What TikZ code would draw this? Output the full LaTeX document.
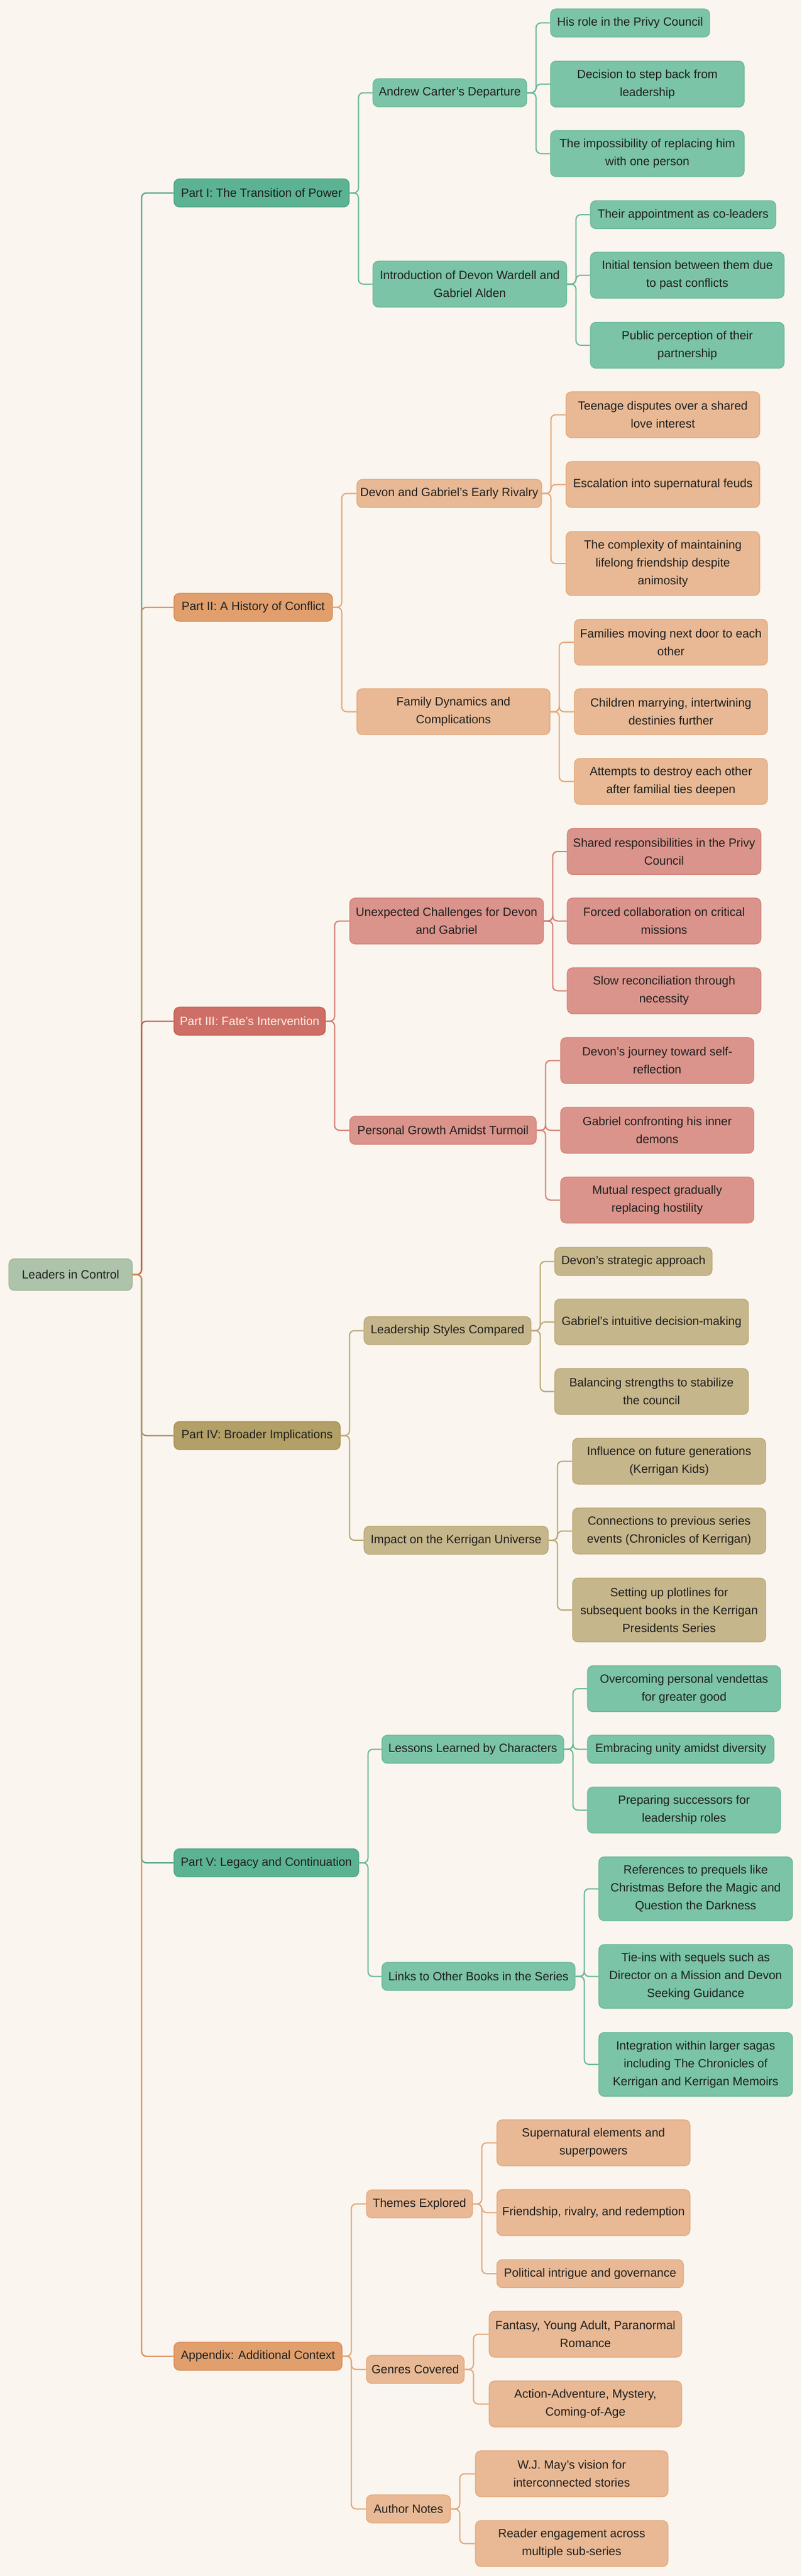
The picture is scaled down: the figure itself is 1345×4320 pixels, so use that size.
\documentclass[tikz,border=0pt]{standalone}
\usepackage{fontspec}
\setmainfont{Liberation Sans}
\usepackage{xcolor}

\definecolor{bgpaper}{HTML}{FAF5EE}
\definecolor{inktext}{HTML}{1F1F1F}
\definecolor{rootfill}{HTML}{ADC3AA}
\definecolor{rootline}{HTML}{9CB598}
\definecolor{grnA}{HTML}{5BB393}
\definecolor{grnAline}{HTML}{4FA283}
\definecolor{grnB}{HTML}{7BC4A7}
\definecolor{grnBline}{HTML}{68B796}
\definecolor{orgA}{HTML}{E09F6D}
\definecolor{orgAline}{HTML}{D98650}
\definecolor{orgB}{HTML}{E8B994}
\definecolor{orgBline}{HTML}{E2A677}
\definecolor{redA}{HTML}{CD6F66}
\definecolor{redAline}{HTML}{C4574D}
\definecolor{redB}{HTML}{DA948B}
\definecolor{redBline}{HTML}{D27E74}
\definecolor{olvA}{HTML}{B3A066}
\definecolor{olvAline}{HTML}{A38F55}
\definecolor{olvB}{HTML}{C6B68B}
\definecolor{olvBline}{HTML}{B9A672}
\definecolor{paletext}{HTML}{FCEEE8}

\begin{document}
\begin{tikzpicture}[x=1pt,y=-1pt]
\tikzset{
  box/.style={rectangle, rounded corners=9pt, line width=1.2pt, inner sep=0pt,
    align=center, font=\fontsize{20}{30}\selectfont, text=inktext},
  rootbox/.style={box, fill=rootfill, draw=rootline},
  grnhead/.style={box, fill=grnA, draw=grnAline},
  grnleaf/.style={box, fill=grnB, draw=grnBline},
  orghead/.style={box, fill=orgA, draw=orgAline},
  orgleaf/.style={box, fill=orgB, draw=orgBline},
  redhead/.style={box, fill=redA, draw=redAline, text=paletext},
  redleaf/.style={box, fill=redB, draw=redBline},
  olvhead/.style={box, fill=olvA, draw=olvAline},
  olvleaf/.style={box, fill=olvB, draw=olvBline},
  wire/.style={line width=2pt, rounded corners=8pt}
}
\fill [bgpaper] (0,0) rectangle (1345,4320);

% root and parts
\node [rootbox, minimum width=207pt, minimum height=53pt] (root) at (118.5,2137.5) {Leaders in Control};
\node [grnhead, minimum width=294pt, minimum height=47pt] (p1) at (439,323.5) {Part I: The Transition of Power};
\node [orghead, minimum width=266pt, minimum height=47pt] (p2) at (425,1018.5) {Part II: A History of Conflict};
\node [redhead, minimum width=254pt, minimum height=47pt] (p3) at (419,1712.5) {Part III: Fate's Intervention};
\node [olvhead, minimum width=279pt, minimum height=47pt] (p4) at (431.5,2407.5) {Part IV: Broader Implications};
\node [grnhead, minimum width=310pt, minimum height=47pt] (p5) at (447,3124) {Part V: Legacy and Continuation};
\node [orghead, minimum width=282pt, minimum height=47pt] (pa) at (433,3951.5) {Appendix: Additional Context};

% part I
\node [grnleaf, minimum width=258pt, minimum height=47pt] (a1) at (755,155.5) {Andrew Carter's Departure};
\node [grnleaf, minimum width=325pt, minimum height=77pt] (a2) at (788.5,476.5) {Introduction of Devon Wardell and\\Gabriel Alden};
\node [grnleaf, minimum width=267pt, minimum height=47pt] (a1a) at (1057.5,38.5) {His role in the Privy Council};
\node [grnleaf, minimum width=325pt, minimum height=77pt] (a1b) at (1086.5,141) {Decision to step back from\\leadership};
\node [grnleaf, minimum width=325pt, minimum height=77pt] (a1c) at (1086.5,257.5) {The impossibility of replacing him\\with one person};
\node [grnleaf, minimum width=311pt, minimum height=47pt] (a2a) at (1146.5,360) {Their appointment as co-leaders};
\node [grnleaf, minimum width=325pt, minimum height=77pt] (a2b) at (1153.5,461.5) {Initial tension between them due\\to past conflicts};
\node [grnleaf, minimum width=325pt, minimum height=77pt] (a2c) at (1153.5,579) {Public perception of their\\partnership};

% part II
\node [orgleaf, minimum width=310pt, minimum height=47pt] (b1) at (754,827.5) {Devon and Gabriel's Early Rivalry};
\node [orgleaf, minimum width=324pt, minimum height=77pt] (b2) at (761,1193.5) {Family Dynamics and\\Complications};
\node [orgleaf, minimum width=325pt, minimum height=77pt] (b1a) at (1112.5,695.5) {Teenage disputes over a shared\\love interest};
\node [orgleaf, minimum width=325pt, minimum height=77pt] (b1b) at (1112.5,812.5) {Escalation into supernatural feuds};
\node [orgleaf, minimum width=325pt, minimum height=107pt] (b1c) at (1112.5,945) {The complexity of maintaining\\lifelong friendship despite\\animosity};
\node [orgleaf, minimum width=324pt, minimum height=77pt] (b2a) at (1126,1077) {Families moving next door to each\\other};
\node [orgleaf, minimum width=324pt, minimum height=77pt] (b2b) at (1126,1193.5) {Children marrying, intertwining\\destinies further};
\node [orgleaf, minimum width=324pt, minimum height=77pt] (b2c) at (1126,1310.5) {Attempts to destroy each other\\after familial ties deepen};

% part III
\node [redleaf, minimum width=325pt, minimum height=77pt] (c1) at (749.5,1544.5) {Unexpected Challenges for Devon\\and Gabriel};
\node [redleaf, minimum width=313pt, minimum height=47pt] (c2) at (743.5,1895.5) {Personal Growth Amidst Turmoil};
\node [redleaf, minimum width=325pt, minimum height=77pt] (c1a) at (1114.5,1428) {Shared responsibilities in the Privy\\Council};
\node [redleaf, minimum width=325pt, minimum height=77pt] (c1b) at (1114.5,1544.5) {Forced collaboration on critical\\missions};
\node [redleaf, minimum width=325pt, minimum height=77pt] (c1c) at (1114.5,1661.5) {Slow reconciliation through\\necessity};
\node [redleaf, minimum width=324pt, minimum height=77pt] (c2a) at (1103,1778.5) {Devon's journey toward self-\\reflection};
\node [redleaf, minimum width=324pt, minimum height=77pt] (c2b) at (1103,1895.5) {Gabriel confronting his inner\\demons};
\node [redleaf, minimum width=324pt, minimum height=77pt] (c2c) at (1103,2012.5) {Mutual respect gradually\\replacing hostility};

% part IV
\node [olvleaf, minimum width=280pt, minimum height=47pt] (d1) at (751,2231.5) {Leadership Styles Compared};
\node [olvleaf, minimum width=309pt, minimum height=47pt] (d2) at (765.5,2583) {Impact on the Kerrigan Universe};
\node [olvleaf, minimum width=264pt, minimum height=47pt] (d1a) at (1063,2115.5) {Devon's strategic approach};
\node [olvleaf, minimum width=325pt, minimum height=77pt] (d1b) at (1093.5,2217) {Gabriel's intuitive decision-making};
\node [olvleaf, minimum width=325pt, minimum height=77pt] (d1c) at (1093.5,2333.5) {Balancing strengths to stabilize\\the council};
\node [olvleaf, minimum width=324pt, minimum height=77pt] (d2a) at (1123,2450.5) {Influence on future generations\\(Kerrigan Kids)};
\node [olvleaf, minimum width=324pt, minimum height=77pt] (d2b) at (1123,2567.5) {Connections to previous series\\events (Chronicles of Kerrigan)};
\node [olvleaf, minimum width=324pt, minimum height=107pt] (d2c) at (1123,2700) {Setting up plotlines for\\subsequent books in the Kerrigan\\Presidents Series};

% part V
\node [grnleaf, minimum width=305pt, minimum height=47pt] (e1) at (793.5,2933.5) {Lessons Learned by Characters};
\node [grnleaf, minimum width=324pt, minimum height=47pt] (e2) at (803,3314.5) {Links to Other Books in the Series};
\node [grnleaf, minimum width=324pt, minimum height=77pt] (e1a) at (1148,2832) {Overcoming personal vendettas\\for greater good};
\node [grnleaf, minimum width=313pt, minimum height=47pt] (e1b) at (1142.5,2933.5) {Embracing unity amidst diversity};
\node [grnleaf, minimum width=324pt, minimum height=77pt] (e1c) at (1148,3035.5) {Preparing successors for\\leadership roles};
\node [grnleaf, minimum width=325pt, minimum height=107pt] (e2a) at (1167.5,3167.5) {References to prequels like\\Christmas Before the Magic and\\Question the Darkness};
\node [grnleaf, minimum width=325pt, minimum height=107pt] (e2b) at (1167.5,3314.5) {Tie-ins with sequels such as\\Director on a Mission and Devon\\Seeking Guidance};
\node [grnleaf, minimum width=325pt, minimum height=107pt] (e2c) at (1167.5,3462) {Integration within larger sagas\\including The Chronicles of\\Kerrigan and Kerrigan Memoirs};

% appendix
\node [orgleaf, minimum width=178pt, minimum height=47pt] (f1) at (704,3696) {Themes Explored};
\node [orgleaf, minimum width=164pt, minimum height=47pt] (f2) at (697,3973.5) {Genres Covered};
\node [orgleaf, minimum width=141pt, minimum height=47pt] (f3) at (685.5,4207.5) {Author Notes};
\node [orgleaf, minimum width=324pt, minimum height=77pt] (f1a) at (996,3593.5) {Supernatural elements and\\superpowers};
\node [orgleaf, minimum width=324pt, minimum height=77pt] (f1b) at (996,3710.5) {Friendship, rivalry, and redemption};
\node [orgleaf, minimum width=313pt, minimum height=47pt] (f1c) at (990.5,3813) {Political intrigue and governance};
\node [orgleaf, minimum width=323pt, minimum height=77pt] (f2a) at (982.5,3914.5) {Fantasy, Young Adult, Paranormal\\Romance};
\node [orgleaf, minimum width=323pt, minimum height=77pt] (f2b) at (982.5,4031.5) {Action-Adventure, Mystery,\\Coming-of-Age};
\node [orgleaf, minimum width=323pt, minimum height=77pt] (f3a) at (959.5,4148.5) {W.J. May's vision for\\interconnected stories};
\node [orgleaf, minimum width=323pt, minimum height=77pt] (f3b) at (959.5,4265.5) {Reader engagement across\\multiple sub-series};

% root connectors
\draw [wire, grnAline] (root.east) -- ++(15,0) |- (p1.west);
\draw [wire, orgAline] (root.east) -- ++(15,0) |- (p2.west);
\draw [wire, redAline] (root.east) -- ++(15,0) |- (p3.west);
\draw [wire, olvAline] (root.east) -- ++(15,0) |- (p4.west);
\draw [wire, grnAline] (root.east) -- ++(15,0) |- (p5.west);
\draw [wire, orgAline] (root.east) -- ++(15,0) |- (pa.west);

% part I connectors
\draw [wire, grnBline] (p1.east) -- ++(15,0) |- (a1.west);
\draw [wire, grnBline] (p1.east) -- ++(15,0) |- (a2.west);
\draw [wire, grnBline] (a1.east) -- ++(15,0) |- (a1a.west);
\draw [wire, grnBline] (a1.east) -- ++(15,0) |- (a1b.west);
\draw [wire, grnBline] (a1.east) -- ++(15,0) |- (a1c.west);
\draw [wire, grnBline] (a2.east) -- ++(15,0) |- (a2a.west);
\draw [wire, grnBline] (a2.east) -- ++(15,0) |- (a2b.west);
\draw [wire, grnBline] (a2.east) -- ++(15,0) |- (a2c.west);

% part II connectors
\draw [wire, orgBline] (p2.east) -- ++(15,0) |- (b1.west);
\draw [wire, orgBline] (p2.east) -- ++(15,0) |- (b2.west);
\draw [wire, orgBline] (b1.east) -- ++(15,0) |- (b1a.west);
\draw [wire, orgBline] (b1.east) -- ++(15,0) |- (b1b.west);
\draw [wire, orgBline] (b1.east) -- ++(15,0) |- (b1c.west);
\draw [wire, orgBline] (b2.east) -- ++(15,0) |- (b2a.west);
\draw [wire, orgBline] (b2.east) -- ++(15,0) |- (b2b.west);
\draw [wire, orgBline] (b2.east) -- ++(15,0) |- (b2c.west);

% part III connectors
\draw [wire, redBline] (p3.east) -- ++(15,0) |- (c1.west);
\draw [wire, redBline] (p3.east) -- ++(15,0) |- (c2.west);
\draw [wire, redBline] (c1.east) -- ++(15,0) |- (c1a.west);
\draw [wire, redBline] (c1.east) -- ++(15,0) |- (c1b.west);
\draw [wire, redBline] (c1.east) -- ++(15,0) |- (c1c.west);
\draw [wire, redBline] (c2.east) -- ++(15,0) |- (c2a.west);
\draw [wire, redBline] (c2.east) -- ++(15,0) |- (c2b.west);
\draw [wire, redBline] (c2.east) -- ++(15,0) |- (c2c.west);

% part IV connectors
\draw [wire, olvBline] (p4.east) -- ++(15,0) |- (d1.west);
\draw [wire, olvBline] (p4.east) -- ++(15,0) |- (d2.west);
\draw [wire, olvBline] (d1.east) -- ++(15,0) |- (d1a.west);
\draw [wire, olvBline] (d1.east) -- ++(15,0) |- (d1b.west);
\draw [wire, olvBline] (d1.east) -- ++(15,0) |- (d1c.west);
\draw [wire, olvBline] (d2.east) -- ++(15,0) |- (d2a.west);
\draw [wire, olvBline] (d2.east) -- ++(15,0) |- (d2b.west);
\draw [wire, olvBline] (d2.east) -- ++(15,0) |- (d2c.west);

% part V connectors
\draw [wire, grnBline] (p5.east) -- ++(15,0) |- (e1.west);
\draw [wire, grnBline] (p5.east) -- ++(15,0) |- (e2.west);
\draw [wire, grnBline] (e1.east) -- ++(15,0) |- (e1a.west);
\draw [wire, grnBline] (e1.east) -- ++(15,0) |- (e1b.west);
\draw [wire, grnBline] (e1.east) -- ++(15,0) |- (e1c.west);
\draw [wire, grnBline] (e2.east) -- ++(15,0) |- (e2a.west);
\draw [wire, grnBline] (e2.east) -- ++(15,0) |- (e2b.west);
\draw [wire, grnBline] (e2.east) -- ++(15,0) |- (e2c.west);

% appendix connectors
\draw [wire, orgBline] (pa.east) -- ++(15,0) |- (f1.west);
\draw [wire, orgBline] (pa.east) -- ++(15,0) |- (f2.west);
\draw [wire, orgBline] (pa.east) -- ++(15,0) |- (f3.west);
\draw [wire, orgBline] (f1.east) -- ++(15,0) |- (f1a.west);
\draw [wire, orgBline] (f1.east) -- ++(15,0) |- (f1b.west);
\draw [wire, orgBline] (f1.east) -- ++(15,0) |- (f1c.west);
\draw [wire, orgBline] (f2.east) -- ++(15,0) |- (f2a.west);
\draw [wire, orgBline] (f2.east) -- ++(15,0) |- (f2b.west);
\draw [wire, orgBline] (f3.east) -- ++(15,0) |- (f3a.west);
\draw [wire, orgBline] (f3.east) -- ++(15,0) |- (f3b.west);
\end{tikzpicture}
\end{document}
